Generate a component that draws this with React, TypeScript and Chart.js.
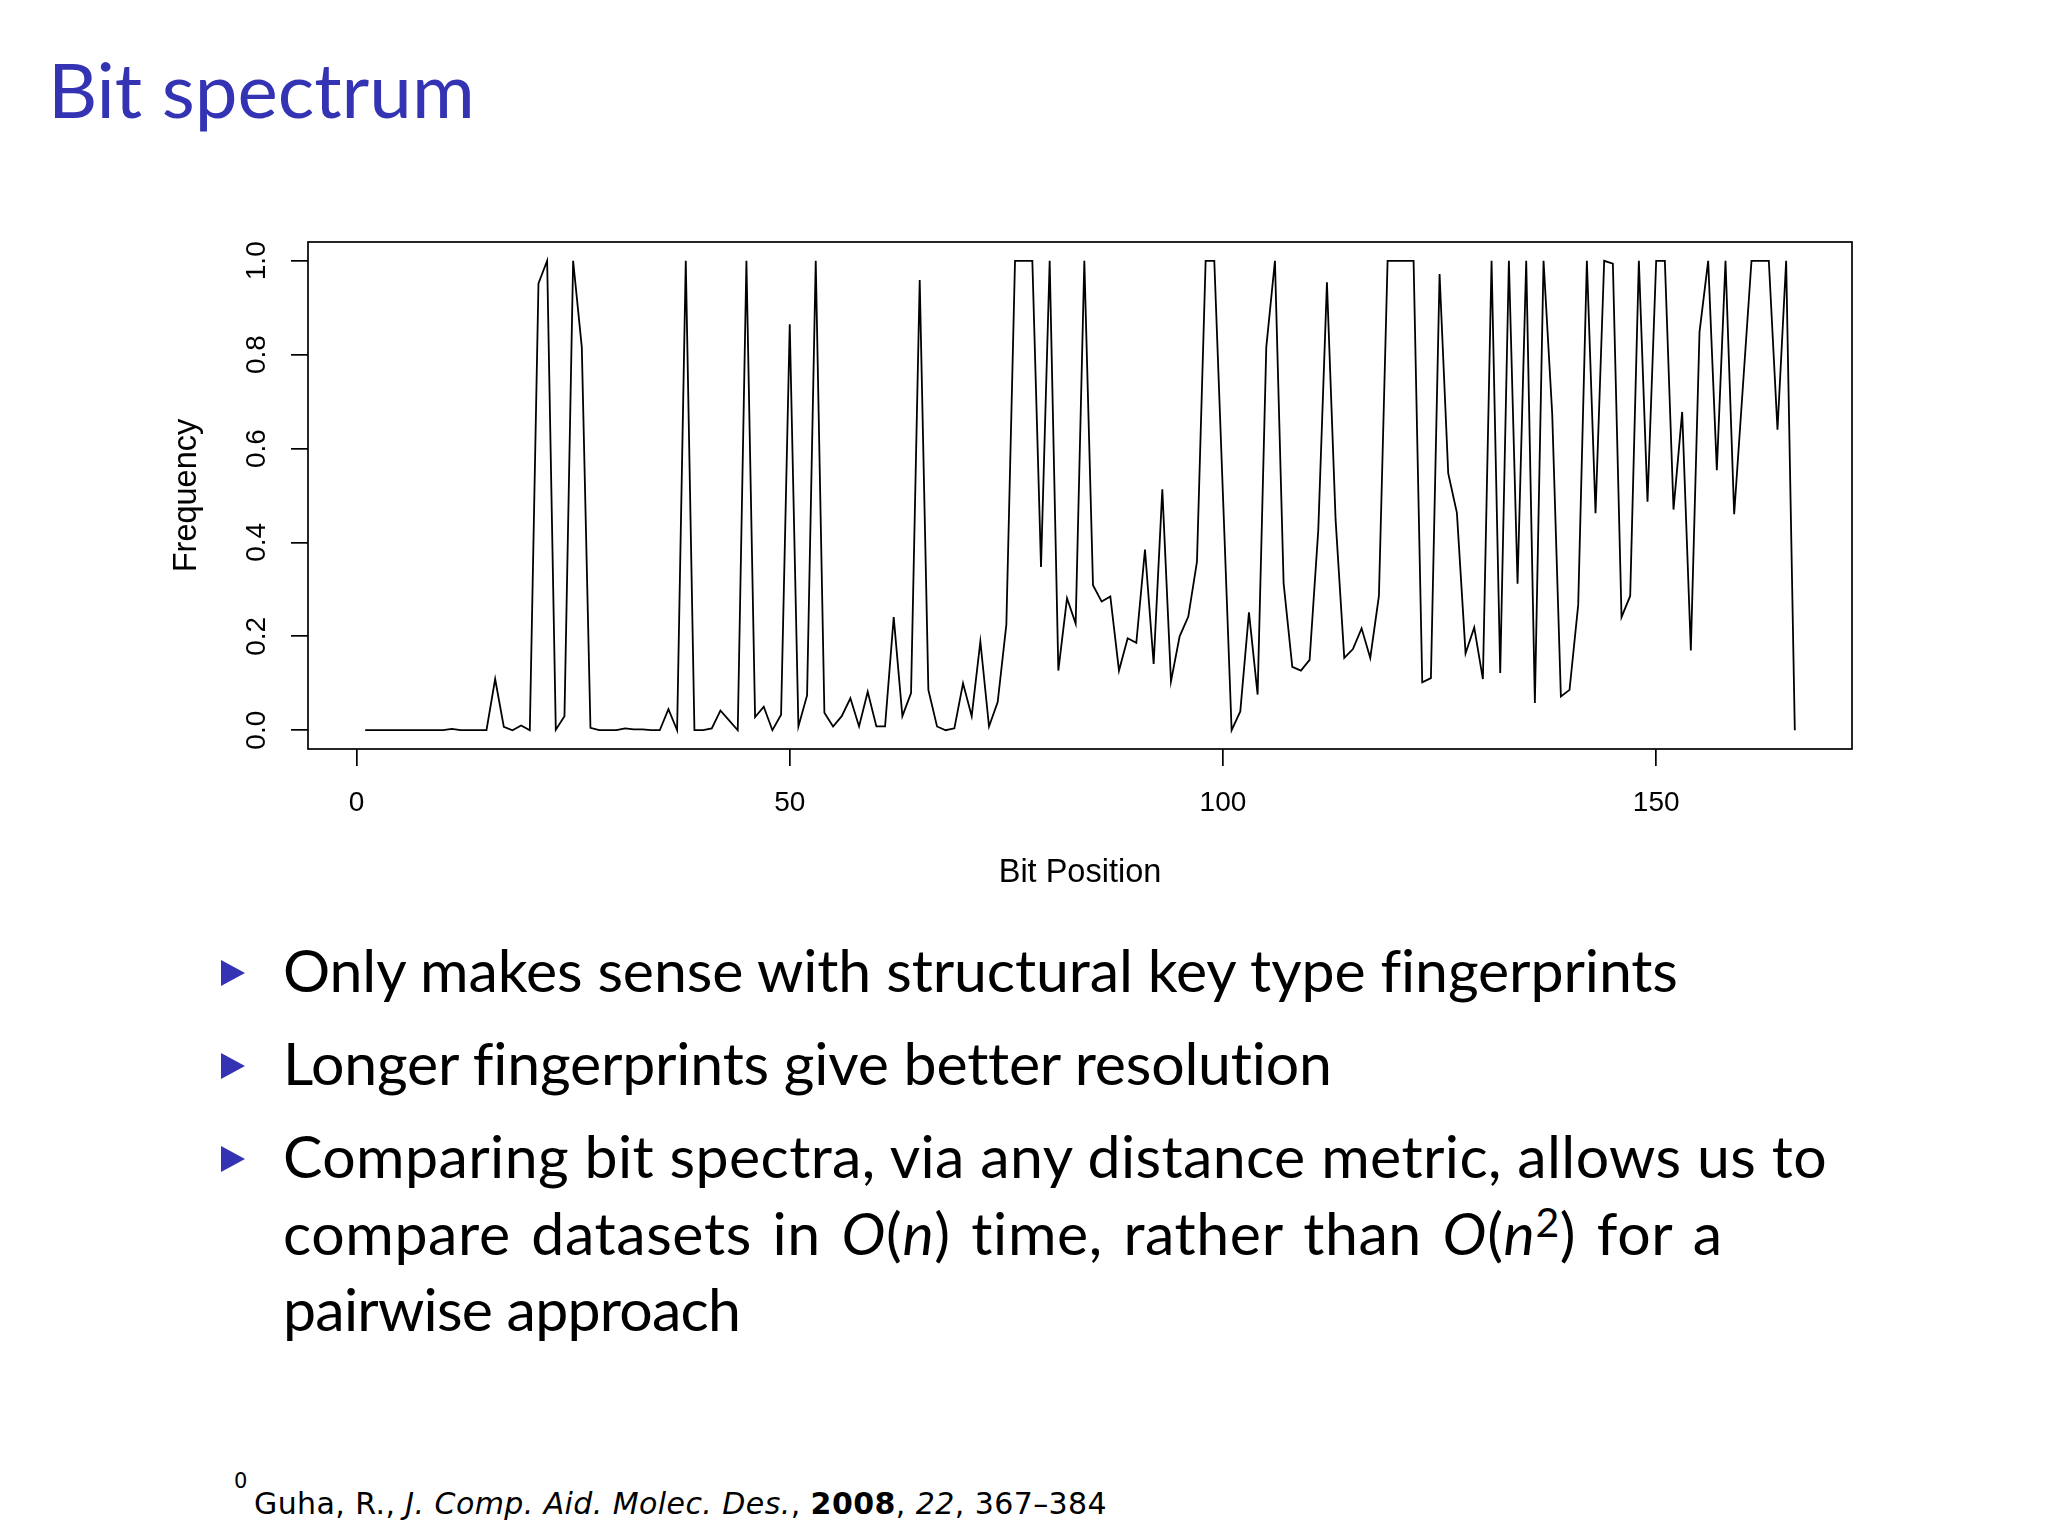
import React, { useEffect, useRef } from "react";
import { Chart, registerables } from "chart.js";

Chart.register(...registerables);

// Frequency of each bit position (positions 1..166)
const frequency: number[] = [
  0, 0, 0, 0, 0, 0, 0, 0, 0, 0,
  0.003, 0, 0, 0, 0, 0.109, 0.007, 0, 0.01, 0,
  0.952, 1, 0.001, 0.03, 1, 0.816, 0.005, 0, 0, 0,
  0.004, 0.002, 0.002, 0, 0, 0.045, 0, 1, 0, 0,
  0.004, 0.042, 0.021, 0, 1, 0.028, 0.05, 0, 0.033, 0.865,
  0.008, 0.074, 1, 0.037, 0.008, 0.03, 0.068, 0.008, 0.082, 0.008,
  0.008, 0.241, 0.03, 0.079, 0.959, 0.086, 0.008, 0, 0.004, 0.1,
  0.03, 0.189, 0.008, 0.06, 0.225, 1, 1, 1, 0.348, 1,
  0.127, 0.281, 0.227, 1, 0.309, 0.274, 0.285, 0.127, 0.196, 0.186,
  0.385, 0.141, 0.513, 0.104, 0.2, 0.242, 0.359, 1, 1, 0.5,
  0, 0.04, 0.251, 0.076, 0.816, 1, 0.313, 0.135, 0.127, 0.15,
  0.426, 0.954, 0.448, 0.154, 0.173, 0.217, 0.154, 0.286, 1, 1,
  1, 1, 0.102, 0.111, 0.972, 0.547, 0.463, 0.164, 0.219, 0.109,
  1, 0.122, 1, 0.312, 1, 0.058, 1, 0.674, 0.072, 0.086,
  0.267, 1, 0.462, 1, 0.994, 0.241, 0.286, 1, 0.487, 1,
  1, 0.47, 0.678, 0.17, 0.848, 1, 0.554, 1, 0.46, 0.73,
  1, 1, 1, 0.64, 1, 0,
];

const xTicks: number[] = [0, 50, 100, 150];
const xTickLabels: string[] = ["0", "50", "100", "150"];
const yTicks: number[] = [0, 0.2, 0.4, 0.6, 0.8, 1.0];
const yTickLabels: string[] = ["0.0", "0.2", "0.4", "0.6", "0.8", "1.0"];
const xTitle = "Bit Position";
const yTitle = "Frequency";

const slideTitle = "Bit spectrum";
const bullet1 = "Only makes sense with structural key type fingerprints";
const bullet2 = "Longer fingerprints give better resolution";

const BLUE = "#3333B3";
const R_FONT = '"Liberation Sans", Arial, Helvetica, sans-serif';
const SLIDE_FONT = 'Lato, "Noto Sans", sans-serif';
const NOTE_FONT = '"DejaVu Sans", "Noto Sans", sans-serif';

const CANVAS_W = 1750;
const CANVAS_H = 670;

function Triangle({ top }: { top: number }) {
  return (
    <div
      style={{
        position: "absolute",
        left: 221,
        top,
        width: 0,
        height: 0,
        borderTop: "13.5px solid transparent",
        borderBottom: "13.5px solid transparent",
        borderLeft: `24px solid ${BLUE}`,
      }}
    />
  );
}

function Line({
  top,
  children,
  letterSpacing = 0,
  wordSpacing = 0,
}: {
  top: number;
  children: React.ReactNode;
  letterSpacing?: number;
  wordSpacing?: number;
}) {
  return (
    <div
      style={{
        position: "absolute",
        left: 283,
        top,
        fontSize: 59,
        lineHeight: "59px",
        whiteSpace: "nowrap",
        color: "#000",
        letterSpacing,
        wordSpacing,
      }}
    >
      {children}
    </div>
  );
}

export default function App() {
  const canvasRef = useRef<HTMLCanvasElement>(null);

  useEffect(() => {
    const canvas = canvasRef.current;
    if (!canvas) return;

    const boxPlugin = {
      id: "rbox",
      afterDraw(chart: any) {
        const { ctx, chartArea: a } = chart;
        ctx.save();
        ctx.strokeStyle = "#000";
        ctx.lineWidth = 1.7;
        ctx.strokeRect(a.left, a.top, a.right - a.left, a.bottom - a.top);
        ctx.restore();
      },
    };

    const chart = new Chart(canvas, {
      type: "line",
      data: {
        datasets: [
          {
            data: frequency.map((v, i) => ({ x: i + 1, y: v })),
            borderColor: "#000",
            borderWidth: 1.8,
            pointRadius: 0,
            tension: 0,
            fill: false,
          },
        ],
      },
      options: {
        animation: false,
        responsive: false,
        devicePixelRatio: 1,
        events: [],
        layout: { padding: { left: 0, right: 48, top: 12, bottom: 0 } },
        plugins: { legend: { display: false }, tooltip: { enabled: false } },
        scales: {
          x: {
            type: "linear",
            min: -5.6,
            max: 172.6,
            afterBuildTicks: (s: any) => {
              s.ticks = xTicks.map((v) => ({ value: v }));
            },
            afterFit: (s: any) => {
              s.height = 151;
              s.paddingLeft = 0;
              s.paddingRight = 0;
              s.paddingTop = 0;
              s.paddingBottom = 0;
            },
            border: { display: false },
            grid: {
              drawOnChartArea: false,
              drawTicks: true,
              tickLength: 17,
              color: "#000",
              lineWidth: 1.7,
            },
            ticks: {
              autoSkip: false,
              minRotation: 0,
              maxRotation: 0,
              padding: 20,
              color: "#000",
              font: { family: R_FONT, size: 28 },
              callback: (_v: any, i: number) => xTickLabels[i],
            },
            title: {
              display: true,
              text: xTitle,
              color: "#000",
              font: { family: R_FONT, size: 32.5 },
              padding: { top: 0, bottom: 7.5 },
            },
          },
          y: {
            type: "linear",
            min: -0.04,
            max: 1.04,
            afterBuildTicks: (s: any) => {
              s.ticks = yTicks.map((v) => ({ value: v }));
            },
            afterFit: (s: any) => {
              s.width = 158;
              s.paddingLeft = 0;
              s.paddingRight = 0;
              s.paddingTop = 0;
              s.paddingBottom = 0;
            },
            border: { display: false },
            grid: {
              drawOnChartArea: false,
              drawTicks: true,
              tickLength: 17,
              color: "#000",
              lineWidth: 1.7,
            },
            ticks: {
              autoSkip: false,
              minRotation: 90,
              maxRotation: 90,
              labelOffset: -19.5,
              padding: 33.4,
              color: "#000",
              font: { family: R_FONT, size: 28 },
              callback: (_v: any, i: number) => yTickLabels[i],
            },
            title: {
              display: true,
              text: yTitle,
              color: "#000",
              font: { family: R_FONT, size: 32.5 },
              padding: { top: 17.6, bottom: 0 },
            },
          },
        },
      },
      plugins: [boxPlugin],
    } as any);

    return () => chart.destroy();
  }, []);

  return (
    <div
      style={{
        position: "absolute",
        left: 0,
        top: 0,
        width: 2048,
        height: 1536,
        background: "#ffffff",
        overflow: "hidden",
        fontFamily: SLIDE_FONT,
      }}
    >
      <div
        style={{
          position: "absolute",
          left: 48,
          top: 50.6,
          fontSize: 76.3,
          lineHeight: "76.3px",
          color: BLUE,
          whiteSpace: "nowrap",
        }}
      >
        {slideTitle}
      </div>

      <div style={{ position: "absolute", left: 150, top: 230, width: CANVAS_W, height: CANVAS_H }}>
        <canvas
          ref={canvasRef}
          width={CANVAS_W}
          height={CANVAS_H}
          style={{ width: CANVAS_W, height: CANVAS_H, display: "block" }}
        />
      </div>

      <Triangle top={959.5} />
      <Line top={940.3} letterSpacing={-0.1}>{bullet1}</Line>
      <Triangle top={1052.5} />
      <Line top={1033.3} letterSpacing={-0.2}>{bullet2}</Line>
      <Triangle top={1145.5} />
      <Line top={1126.3} letterSpacing={0.4}>
        Comparing bit spectra, via any distance metric, allows us to
      </Line>
      <Line top={1202.9} letterSpacing={0.6} wordSpacing={5}>
        compare datasets in <i>O</i>(<i>n</i>) time, rather than <i>O</i>(<i>n</i>
        <sup style={{ fontSize: 41, lineHeight: 0, verticalAlign: "0.45em" }}>2</sup>) for a
      </Line>
      <Line top={1279.3} letterSpacing={-0.75}>pairwise approach</Line>

      <div
        style={{
          position: "absolute",
          left: 234,
          top: 1470.5,
          fontSize: 21,
          lineHeight: "21px",
          color: "#000",
          fontFamily: NOTE_FONT,
        }}
      >
        0
      </div>
      <div
        style={{
          position: "absolute",
          left: 254,
          top: 1488.6,
          fontSize: 30,
          lineHeight: "30px",
          whiteSpace: "nowrap",
          color: "#000",
          fontFamily: NOTE_FONT,
          letterSpacing: 0.42,
        }}
      >
        Guha, R., <i>J. Comp. Aid. Molec. Des.</i>, <b>2008</b>, <i>22</i>, 367–384
      </div>
    </div>
  );
}
